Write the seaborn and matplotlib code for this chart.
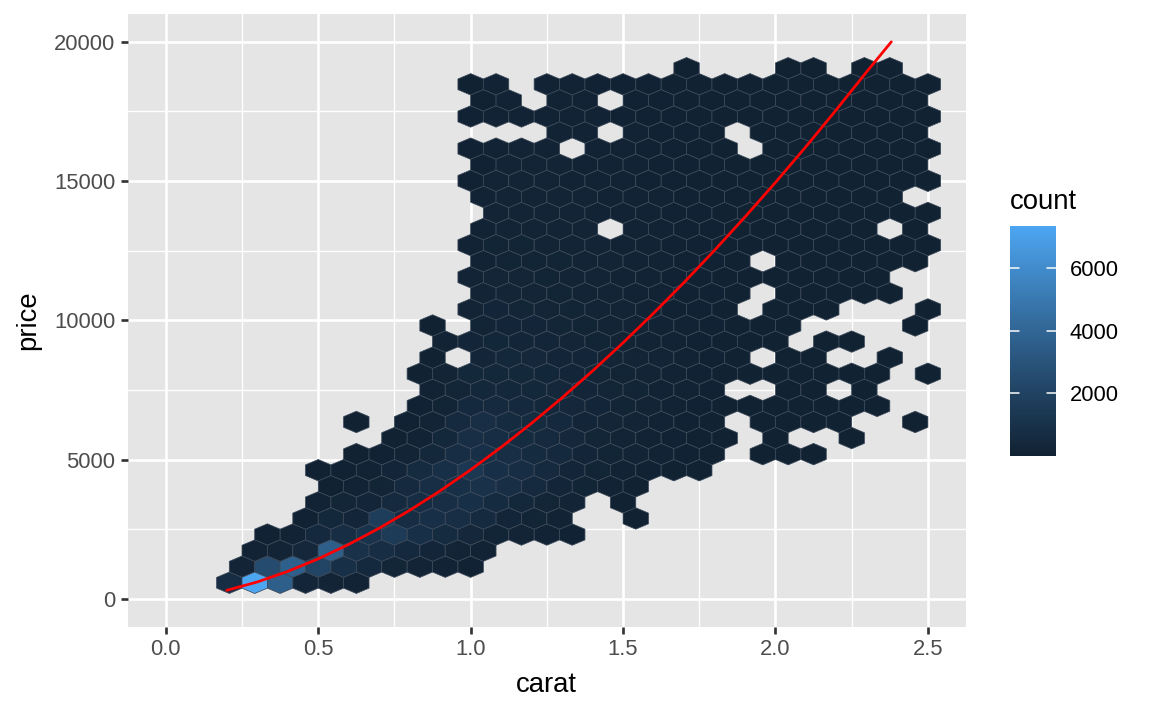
import numpy as np
import pandas as pd
import matplotlib
matplotlib.use("Agg")
import matplotlib.pyplot as plt
from matplotlib.colors import LinearSegmentedColormap, Normalize
import seaborn as sns

# ---------------- data ----------------
# hex rows: price at the row centre, carat of the first cell in the row,
# counts of the consecutive cells in the row (0 = empty cell)
row_price = [577, 1155, 1732, 2309, 2887, 3464, 4041, 4619, 5196, 5774, 6351,
             6928, 7506, 8083, 8660, 9238, 9815, 10392, 10970, 11547, 12124,
             12702, 13279, 13856, 14434, 15011, 15588, 16166, 16743, 17320,
             17898, 18475, 19052]
row_start = [0.2083, 0.25, 0.2917, 0.3333, 0.4583, 0.5, 0.5417, 0.5, 0.625,
             0.75, 0.625, 0.8333, 0.875, 0.8333, 0.875, 0.9167, 0.875, 1.0,
             1.0417, 1.0, 1.0417, 1.0, 1.0417, 1.0833, 1.0417, 1.0, 1.0417,
             1.0, 1.2917, 1.0, 1.0417, 1.0, 1.7083]
row_counts = [
    [700, 7350, 3600, 300, 150, 60],
    [150, 2500, 3700, 2100, 900, 450, 250, 150, 80, 40],
    [60, 120, 350, 3600, 1000, 700, 450, 300, 150, 60],
    [30, 100, 450, 700, 1100, 1500, 900, 600, 350, 200, 120, 70, 30],
    [40, 400, 300, 1700, 700, 900, 800, 500, 300, 200, 80, 0, 0, 5],
    [60, 250, 300, 500, 700, 800, 900, 600, 400, 250, 150, 0, 8],
    [10, 80, 200, 500, 800, 900, 1000, 800, 500, 300, 200, 80, 15],
    [5, 30, 100, 300, 600, 900, 1300, 900, 700, 500, 300, 200, 100, 50, 20, 8],
    [10, 40, 150, 400, 700, 900, 800, 600, 450, 300, 200, 120, 60, 30, 10, 0, 3, 4, 2],
    [20, 100, 400, 800, 700, 600, 500, 350, 250, 150, 80, 40, 20, 8, 0, 3, 0, 0, 2],
    [3, 0, 30, 150, 500, 750, 600, 550, 450, 300, 220, 120, 60, 30, 12, 0, 5, 6, 4, 3, 0, 0, 2],
    [40, 200, 450, 500, 450, 400, 350, 280, 200, 130, 70, 40, 20, 15, 10, 8, 6, 5, 3],
    [60, 250, 400, 420, 400, 350, 300, 250, 180, 110, 60, 30, 0, 0, 8, 6, 0, 3],
    [10, 150, 380, 400, 380, 330, 280, 240, 180, 120, 70, 40, 25, 15, 10, 8, 6, 5, 3, 0, 2],
    [3, 0, 300, 380, 350, 300, 260, 220, 170, 120, 70, 40, 20, 0, 8, 6, 0, 0, 3],
    [60, 280, 330, 300, 270, 230, 190, 150, 110, 70, 40, 20, 12, 8, 0, 5, 3],
    [2, 0, 200, 290, 270, 240, 200, 170, 130, 100, 60, 35, 20, 12, 8, 0, 0, 0, 0, 2],
    [150, 260, 250, 220, 190, 160, 120, 90, 55, 30, 15, 0, 8, 6, 5, 0, 0, 0, 2],
    [130, 230, 230, 200, 170, 150, 110, 80, 50, 30, 15, 0, 10, 8, 6, 5, 3],
    [120, 220, 210, 190, 160, 140, 110, 80, 50, 30, 20, 15, 12, 10, 8, 6, 4],
    [100, 200, 200, 180, 150, 130, 100, 75, 50, 30, 18, 0, 12, 10, 8, 6, 4, 3],
    [90, 190, 190, 170, 140, 120, 95, 70, 45, 30, 20, 15, 12, 10, 8, 6, 5, 4, 3],
    [80, 170, 170, 160, 130, 0, 90, 70, 45, 30, 20, 15, 12, 9, 7, 5, 0, 2],
    [150, 160, 150, 130, 110, 85, 65, 45, 30, 20, 15, 12, 10, 8, 6, 5, 4, 3],
    [60, 140, 150, 140, 120, 100, 80, 60, 40, 28, 18, 14, 11, 9, 7, 5, 3],
    [55, 130, 140, 130, 110, 95, 75, 55, 38, 26, 18, 14, 11, 9, 7, 6, 5, 4, 3],
    [45, 120, 130, 120, 100, 85, 70, 50, 35, 25, 17, 13, 10, 8, 7, 5, 4, 3],
    [40, 110, 120, 110, 0, 80, 65, 48, 33, 23, 16, 0, 10, 8, 7, 6, 5, 4, 3],
    [100, 85, 0, 60, 45, 32, 22, 0, 12, 10, 8, 7, 5, 4, 3],
    [30, 90, 100, 95, 80, 70, 55, 42, 30, 21, 15, 12, 10, 8, 7, 6, 5, 4, 3],
    [25, 80, 0, 85, 75, 0, 50, 38, 28, 20, 14, 11, 9, 8, 6, 5, 4, 3],
    [20, 60, 0, 70, 60, 50, 40, 30, 22, 16, 12, 10, 8, 7, 6, 5, 4, 3, 2],
    [3, 0, 0, 0, 2, 2, 0, 1, 1],
]
carat_bin = 2.5 / 30          # hex column width in carat (30 bins)

# fitted curve (red line)
curve_carat = [0.2, 0.3, 0.4, 0.5, 0.6, 0.7, 0.8, 0.9, 1.0, 1.1, 1.2, 1.3,
               1.4, 1.5, 1.6, 1.7, 1.8, 1.9, 2.0, 2.1, 2.2, 2.3, 2.38]
curve_price = [306, 606, 985, 1436, 1955, 2536, 3178, 3878, 4634, 5444, 6306,
               7220, 8184, 9195, 10255, 11360, 12514, 13712, 14952, 16237,
               17568, 18935, 20000]

x_ticks = [0.0, 0.5, 1.0, 1.5, 2.0, 2.5]
x_minor = [0.25, 0.75, 1.25, 1.75, 2.25]
y_ticks = [0, 5000, 10000, 15000, 20000]
y_minor = [2500, 7500, 12500, 17500]
legend_ticks = [2000, 4000, 6000]

# ---------------- build table ----------------
recs = []
for p, s, cnts in zip(row_price, row_start, row_counts):
    for k, c in enumerate(cnts):
        if c > 0:
            recs.append((s + k * carat_bin, p, c))
df = pd.DataFrame(recs, columns=["carat", "price", "count"])

# ---------------- colour scale (ggplot default, Lab interpolation) ----------------
def _srgb_to_lin(c):
    return np.where(c <= 0.04045, c / 12.92, ((c + 0.055) / 1.055) ** 2.4)

def _lin_to_srgb(c):
    c = np.clip(c, 0, 1)
    return np.where(c <= 0.0031308, 12.92 * c, 1.055 * c ** (1 / 2.4) - 0.055)

M = np.array([[0.4124, 0.3576, 0.1805], [0.2126, 0.7152, 0.0722], [0.0193, 0.1192, 0.9505]])
WHITE = np.array([0.95047, 1.0, 1.08883])

def _to_lab(hexc):
    rgb = np.array([int(hexc[i:i + 2], 16) / 255 for i in (1, 3, 5)])
    xyz = M @ _srgb_to_lin(rgb) / WHITE
    f = np.where(xyz > 0.008856, np.cbrt(xyz), 7.787 * xyz + 16 / 116)
    return np.array([116 * f[1] - 16, 500 * (f[0] - f[1]), 200 * (f[1] - f[2])])

def _from_lab(lab):
    fy = (lab[0] + 16) / 116
    fx = fy + lab[1] / 500
    fz = fy - lab[2] / 200
    f = np.array([fx, fy, fz])
    xyz = np.where(f ** 3 > 0.008856, f ** 3, (f - 16 / 116) / 7.787) * WHITE
    return _lin_to_srgb(np.linalg.solve(M, xyz))

lo, hi = _to_lab("#112233"), _to_lab("#4DA6F2")
cols = [_from_lab(lo + (hi - lo) * t) for t in np.linspace(0, 1, 256)]
cmap = LinearSegmentedColormap.from_list("gg", cols)

# ---------------- style ----------------
sns.set_theme(style="darkgrid", rc={
    "axes.facecolor": "#E5E5E5",
    "grid.color": "white",
})
plt.rcParams["font.family"] = ["Liberation Sans", "DejaVu Sans"]

fig = plt.figure(figsize=(1152 / 180, 711 / 180), dpi=180)
ax = fig.add_axes([127.7 / 1152, 1 - 626.7 / 711, (966 - 127.7) / 1152, (626.7 - 14) / 711])

sy = 2 * 577.35
hb = ax.hexbin(df["carat"], df["price"], C=df["count"], reduce_C_function=np.sum,
               gridsize=(30, 17), extent=(0, 2.5, 0, 17 * sy),
               cmap=cmap, norm=Normalize(vmin=1, vmax=7350),
               edgecolors="#3b4858", linewidths=0.3, zorder=2)

sns.lineplot(x=curve_carat, y=curve_price, color="red", lw=1.1, ax=ax, zorder=3)

ax.set_xlim(-0.125, 2.625)
ax.set_ylim(-1000, 21000)
ax.set_xticks(x_ticks)
ax.set_xticklabels([f"{v:.1f}" for v in x_ticks])
ax.set_yticks(y_ticks)
ax.set_yticklabels([str(v) for v in y_ticks])
ax.set_xticks(x_minor, minor=True)
ax.set_yticks(y_minor, minor=True)
ax.grid(which="major", color="white", lw=1.07)
ax.grid(which="minor", color="white", lw=0.53)
ax.set_axisbelow(True)
for sp in ax.spines.values():
    sp.set_visible(False)
ax.tick_params(which="major", length=2.75, width=1.07, color="#333333",
               labelsize=8.8, labelcolor="#4D4D4D", pad=2.2,
               bottom=True, left=True)
ax.tick_params(which="minor", length=0)
ax.set_xlabel("carat", fontsize=11, color="black", labelpad=4.6)
ax.set_ylabel("price", fontsize=11, color="black", labelpad=5.2)

# colour bar
cax = fig.add_axes([1010 / 1152, 1 - 456 / 711, 45.7 / 1152, 230 / 711])
cb = fig.colorbar(hb, cax=cax)
cb.outline.set_visible(False)
cb.set_ticks(legend_ticks)
cb.set_ticklabels([str(v) for v in legend_ticks])
cax.tick_params(length=0, labelsize=8.8, labelcolor="black", pad=5.5)
cax.grid(False)
for t in legend_ticks:
    cax.axhline(t, 0, 0.2, color="white", lw=0.6)
    cax.axhline(t, 0.8, 1, color="white", lw=0.6)
fig.text(1010 / 1152, 1 - 209 / 711, "count", fontsize=11, color="black",
         ha="left", va="baseline")

fig.savefig("out.png", dpi=180, facecolor="white")
